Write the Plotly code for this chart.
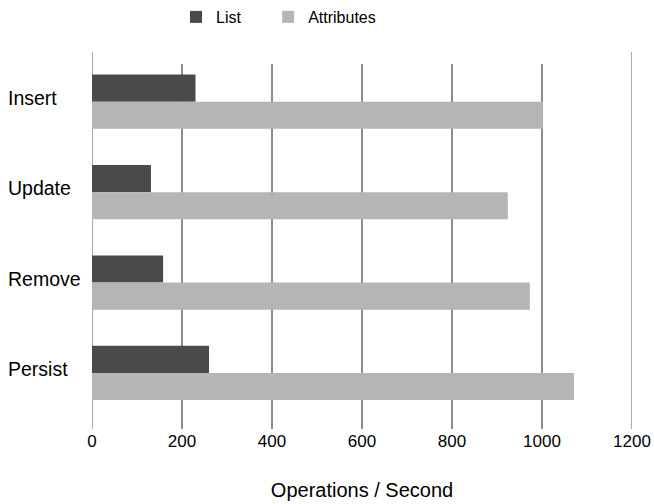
import plotly.graph_objects as go

categories = ["Insert", "Update", "Remove", "Persist"]
list_values = [230, 131, 158, 260]
attr_values = [1002, 924, 973, 1071]
x_ticks = [0, 200, 400, 600, 800, 1000, 1200]
series_names = ["List", "Attributes"]

FONT = "Liberation Sans, Arial, sans-serif"

fig = go.Figure()
fig.add_trace(go.Bar(y=categories, x=list_values, name=series_names[0] + "\u00a0" * 5,
                     orientation="h", marker=dict(color="#4a4a4a", line=dict(width=0))))
fig.add_trace(go.Bar(y=categories, x=attr_values, name=series_names[1],
                     orientation="h", marker=dict(color="#b5b5b5", line=dict(width=0))))

for c in categories:
    fig.add_annotation(x=-86 / 540, xref="paper", y=c, yref="y", text=c, showarrow=False,
                       xanchor="left", yanchor="middle", yshift=4,
                       font=dict(family=FONT, size=19.5, color="#000"))

# vertical grid lines: outer ones span full height, inner ones stop a little below the top
for v in x_ticks:
    outer = v in (x_ticks[0], x_ticks[-1])
    fig.add_shape(type="line", xref="x", yref="paper", x0=v, x1=v, y0=0,
                  y1=1 if outer else (429 - 64) / 377,
                  line=dict(color="#555" if outer else "#1a1a1a", width=1), layer="below")

fig.update_layout(
    width=654, height=504,
    margin=dict(l=92, r=22, t=52, b=75, autoexpand=False),
    paper_bgcolor="white", plot_bgcolor="white",
    barmode="group", bargap=0.4, bargroupgap=0,
    font=dict(family=FONT, size=16, color="#000"),
    legend=dict(orientation="h", x=0.1556, xanchor="left", yref="container", yanchor="middle",
                y=1 - 17 / 504, font=dict(family=FONT, size=16), itemwidth=30,
                traceorder="normal", bgcolor="rgba(0,0,0,0)"),
    xaxis=dict(range=[0, 1200], tickvals=x_ticks, ticktext=[str(v) for v in x_ticks],
               showgrid=False, zeroline=False,
               showline=False, ticks="", tickfont=dict(family=FONT, size=17),
               title=dict(text="Operations / Second", font=dict(family=FONT, size=20), standoff=32)),
    yaxis=dict(categoryorder="array", categoryarray=categories, range=[3.62, -0.55],
               showticklabels=False, showgrid=False, zeroline=False, ticks=""),
)

fig.write_html("out.html", config={"displayModeBar": False},
               post_script="document.body.style.margin='0';")
